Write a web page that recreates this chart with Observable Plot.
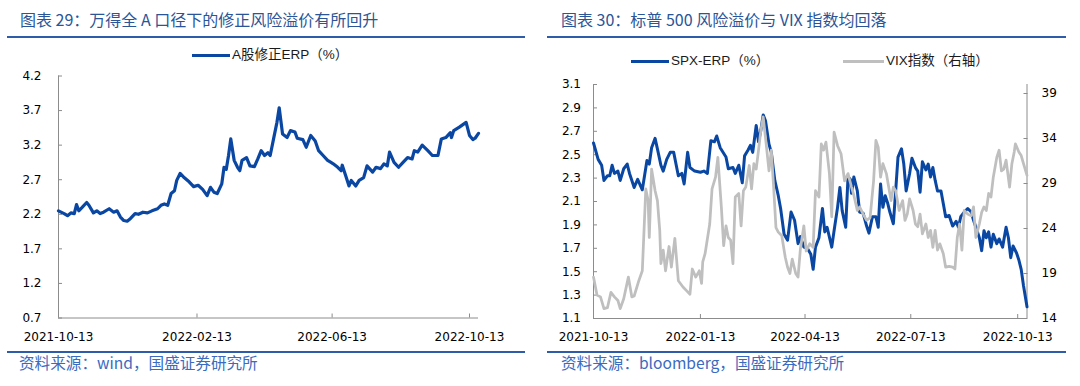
<!DOCTYPE html>
<html><head><meta charset="utf-8">
<script src="https://cdn.jsdelivr.net/npm/d3@7"></script>
<script src="https://cdn.jsdelivr.net/npm/@observablehq/plot@0.6"></script>
<style>
html,body{margin:0;padding:0;background:#fff;}
#root{position:relative;width:1080px;height:386px;overflow:hidden;font-family:"Noto Sans CJK SC",sans-serif;}
.title{position:absolute;top:9px;font-size:16px;color:#2b5597;white-space:nowrap;line-height:20px;}
.rule{position:absolute;height:2px;background:#2e5ca8;}
.legend{position:absolute;font-family:"Liberation Sans","Noto Sans CJK SC",sans-serif;font-size:13.5px;color:#1a1a1a;white-space:nowrap;line-height:16px;height:16px;display:flex;align-items:center;}
.swatch{display:inline-block;width:38px;height:3px;margin-right:2px;}
.caption{position:absolute;top:352px;font-size:15.6px;color:#3a6bc0;white-space:nowrap;line-height:20px;}
.chart{position:absolute;}
</style>
</head><body>
<div id="root">
  <div class="title" style="left:20px">图表 29：万得全 A 口径下的修正风险溢价有所回升</div>
  <div class="rule" style="left:7px;width:518px;top:36px"></div>
  <div class="legend" style="left:192px;top:47px"><span class="swatch" id="swA"></span><span id="lgA"></span></div>
  <div class="chart" id="chartA" style="left:0;top:64px"></div>
  <div class="rule" style="left:7px;width:518px;top:351px"></div>
  <div class="caption" style="left:19px">资料来源：wind，国盛证券研究所</div>

  <div class="title" style="left:561px">图表 30：标普 500 风险溢价与 VIX 指数均回落</div>
  <div class="rule" style="left:547px;width:519px;top:36px"></div>
  <div class="legend" style="left:631px;top:53px"><span class="swatch" id="swS"></span><span id="lgS"></span></div>
  <div class="legend" style="left:843px;top:53px"><span class="swatch" id="swV" style="width:41px"></span><span id="lgV"></span></div>
  <div class="chart" id="chartB" style="left:540px;top:70px"></div>
  <div class="rule" style="left:547px;width:519px;top:351px"></div>
  <div class="caption" style="left:561px">资料来源：bloomberg，国盛证券研究所</div>
</div>
<script>
// ---------- data ----------
const seriesNameA = "A股修正ERP（%）";
const seriesNameS = "SPX-ERP（%）";
const seriesNameV = "VIX指数（右轴）";

const xStart = "2021-10-13";
const xEnd = "2022-10-21";
const xTicksA = ["2021-10-13", "2022-02-13", "2022-06-13", "2022-10-13"];
const xTicksB = ["2021-10-13", "2022-01-13", "2022-04-13", "2022-07-13", "2022-10-13"];
const yTicksA = [0.7, 1.2, 1.7, 2.2, 2.7, 3.2, 3.7, 4.2];
const yTicksB = [1.1, 1.3, 1.5, 1.7, 1.9, 2.1, 2.3, 2.5, 2.7, 2.9, 3.1];
const yTicksVix = [14, 19, 24, 29, 34, 39];
const yDomainA = [0.7, 4.2];
const yDomainB = [1.1, 3.1];
const yDomainVix = [14, 40];

const aShareERP = [
["2021-10-13",2.25],["2021-10-18",2.21],["2021-10-21",2.18],["2021-10-24",2.22],["2021-10-27",2.21],
["2021-10-29",2.34],["2021-10-31",2.25],["2021-11-03",2.30],["2021-11-07",2.37],["2021-11-09",2.33],
["2021-11-13",2.22],["2021-11-16",2.25],["2021-11-19",2.21],["2021-11-22",2.23],["2021-11-27",2.28],
["2021-12-01",2.23],["2021-12-04",2.25],["2021-12-07",2.16],["2021-12-10",2.11],["2021-12-13",2.10],
["2021-12-16",2.14],["2021-12-20",2.21],["2021-12-23",2.20],["2021-12-27",2.23],["2021-12-31",2.22],
["2022-01-04",2.25],["2022-01-09",2.28],["2022-01-12",2.33],["2022-01-15",2.35],["2022-01-18",2.33],
["2022-01-21",2.50],["2022-01-24",2.54],["2022-01-26",2.69],["2022-01-29",2.79],["2022-02-01",2.74],
["2022-02-06",2.67],["2022-02-10",2.60],["2022-02-14",2.62],["2022-02-18",2.56],["2022-02-22",2.47],
["2022-02-25",2.59],["2022-02-28",2.52],["2022-03-03",2.50],["2022-03-07",2.64],["2022-03-09",2.88],
["2022-03-11",2.85],["2022-03-13",3.05],["2022-03-15",3.29],["2022-03-18",2.98],["2022-03-21",2.88],
["2022-03-23",2.83],["2022-03-25",2.98],["2022-03-29",3.02],["2022-04-01",2.90],["2022-04-05",2.89],
["2022-04-08",3.00],["2022-04-11",3.12],["2022-04-14",3.05],["2022-04-17",3.09],["2022-04-19",3.05],
["2022-04-22",3.29],["2022-04-25",3.53],["2022-04-27",3.74],["2022-04-30",3.36],["2022-05-04",3.31],
["2022-05-07",3.41],["2022-05-11",3.39],["2022-05-13",3.30],["2022-05-18",3.28],["2022-05-21",3.17],
["2022-05-25",3.34],["2022-05-29",3.26],["2022-06-01",3.12],["2022-06-05",3.05],["2022-06-09",2.98],
["2022-06-12",2.95],["2022-06-14",2.93],["2022-06-18",2.88],["2022-06-21",2.83],["2022-06-22",2.91],
["2022-06-25",2.76],["2022-06-28",2.61],["2022-06-30",2.69],["2022-07-04",2.61],["2022-07-07",2.69],
["2022-07-11",2.73],["2022-07-14",2.90],["2022-07-19",2.81],["2022-07-22",2.88],["2022-07-26",2.86],
["2022-07-29",2.93],["2022-08-01",2.90],["2022-08-03",3.10],["2022-08-07",2.95],["2022-08-11",2.88],
["2022-08-15",2.95],["2022-08-19",3.02],["2022-08-23",3.00],["2022-08-25",3.12],["2022-08-28",3.10],
["2022-09-01",3.20],["2022-09-06",3.12],["2022-09-10",3.05],["2022-09-15",3.05],["2022-09-18",3.29],
["2022-09-22",3.31],["2022-09-26",3.38],["2022-09-27",3.31],["2022-09-29",3.41],["2022-10-04",3.46],
["2022-10-10",3.53],["2022-10-13",3.34],["2022-10-16",3.28],["2022-10-18",3.30],["2022-10-21",3.37]
];

const spxERP = [
["2021-10-13",2.60],["2021-10-17",2.46],["2021-10-20",2.41],["2021-10-22",2.28],["2021-10-25",2.32],
["2021-10-27",2.32],["2021-10-29",2.41],["2021-10-31",2.34],["2021-11-03",2.36],["2021-11-05",2.28],
["2021-11-08",2.38],["2021-11-11",2.42],["2021-11-13",2.34],["2021-11-17",2.22],["2021-11-20",2.29],
["2021-11-24",2.20],["2021-11-28",2.45],["2021-11-30",2.42],["2021-12-02",2.56],["2021-12-05",2.64],
["2021-12-07",2.55],["2021-12-10",2.41],["2021-12-12",2.36],["2021-12-15",2.46],["2021-12-18",2.52],
["2021-12-21",2.52],["2021-12-25",2.32],["2021-12-28",2.34],["2021-12-30",2.25],["2022-01-02",2.52],
["2022-01-04",2.39],["2022-01-08",2.36],["2022-01-13",2.35],["2022-01-16",2.36],["2022-01-19",2.34],
["2022-01-22",2.62],["2022-01-25",2.61],["2022-01-27",2.66],["2022-01-30",2.56],["2022-02-04",2.48],
["2022-02-06",2.38],["2022-02-10",2.39],["2022-02-12",2.34],["2022-02-15",2.41],["2022-02-18",2.26],
["2022-02-20",2.49],["2022-02-23",2.54],["2022-02-25",2.58],["2022-02-27",2.52],["2022-03-02",2.75],
["2022-03-04",2.61],["2022-03-06",2.71],["2022-03-08",2.84],["2022-03-10",2.79],["2022-03-13",2.59],
["2022-03-15",2.52],["2022-03-18",2.28],["2022-03-21",2.15],["2022-03-23",2.04],["2022-03-26",1.82],
["2022-03-29",1.77],["2022-04-01",2.01],["2022-04-04",1.94],["2022-04-07",1.74],["2022-04-09",1.80],
["2022-04-12",1.71],["2022-04-15",1.70],["2022-04-18",1.65],["2022-04-20",1.52],["2022-04-22",1.71],
["2022-04-25",1.79],["2022-04-28",2.04],["2022-04-30",1.84],["2022-05-02",1.88],["2022-05-06",1.71],
["2022-05-08",1.85],["2022-05-11",2.05],["2022-05-13",2.22],["2022-05-15",2.02],["2022-05-18",1.88],
["2022-05-20",2.31],["2022-05-22",2.29],["2022-05-23",2.17],["2022-05-25",2.31],["2022-05-28",2.19],
["2022-05-30",2.01],["2022-06-02",2.00],["2022-06-05",1.89],["2022-06-07",1.83],["2022-06-10",1.97],
["2022-06-13",1.97],["2022-06-15",1.88],["2022-06-17",2.25],["2022-06-19",2.05],["2022-06-21",2.15],
["2022-06-23",2.09],["2022-06-25",2.01],["2022-06-28",1.91],["2022-06-30",2.19],["2022-07-02",2.48],
["2022-07-05",2.55],["2022-07-07",2.42],["2022-07-09",2.19],["2022-07-12",2.34],["2022-07-14",2.47],
["2022-07-17",2.39],["2022-07-19",2.36],["2022-07-21",2.18],["2022-07-23",2.44],["2022-07-26",2.37],
["2022-07-28",2.42],["2022-07-30",2.31],["2022-08-01",2.39],["2022-08-03",2.28],["2022-08-05",2.19],
["2022-08-08",2.19],["2022-08-10",2.08],["2022-08-12",1.97],["2022-08-15",1.98],["2022-08-18",1.89],
["2022-08-21",1.93],["2022-08-23",1.88],["2022-08-25",1.97],["2022-08-28",2.01],["2022-08-31",2.04],
["2022-09-03",2.01],["2022-09-05",1.94],["2022-09-07",1.88],["2022-09-10",1.79],["2022-09-12",1.68],
["2022-09-14",1.85],["2022-09-16",1.79],["2022-09-18",1.84],["2022-09-20",1.71],["2022-09-22",1.82],
["2022-09-25",1.74],["2022-09-27",1.78],["2022-09-30",1.71],["2022-10-03",1.88],["2022-10-05",1.79],
["2022-10-07",1.62],["2022-10-09",1.72],["2022-10-12",1.66],["2022-10-14",1.60],["2022-10-16",1.52],
["2022-10-18",1.38],["2022-10-21",1.20]
];

const vixIndex = [
["2021-10-13",18.6],["2021-10-16",16.6],["2021-10-19",16.4],["2021-10-22",15.1],["2021-10-25",15.2],
["2021-10-28",16.9],["2021-10-31",16.4],["2021-11-03",16.0],["2021-11-05",15.1],["2021-11-08",16.2],
["2021-11-12",18.6],["2021-11-15",16.4],["2021-11-17",16.5],["2021-11-21",18.2],["2021-11-24",19.3],
["2021-11-27",28.4],["2021-11-29",27.1],["2021-11-30",23.0],["2021-12-02",30.6],["2021-12-05",28.2],
["2021-12-07",27.1],["2021-12-09",23.8],["2021-12-10",20.1],["2021-12-12",21.6],["2021-12-14",19.3],
["2021-12-17",22.0],["2021-12-19",19.7],["2021-12-22",22.9],["2021-12-25",18.2],["2021-12-29",17.5],
["2022-01-01",17.1],["2022-01-04",16.7],["2022-01-06",19.5],["2022-01-09",18.6],["2022-01-12",19.3],
["2022-01-14",17.9],["2022-01-15",20.3],["2022-01-17",21.2],["2022-01-21",24.5],["2022-01-23",28.4],
["2022-01-26",29.7],["2022-01-28",31.9],["2022-01-31",26.4],["2022-02-02",22.1],["2022-02-04",24.3],
["2022-02-06",23.0],["2022-02-08",22.7],["2022-02-10",20.1],["2022-02-12",27.5],["2022-02-15",27.9],
["2022-02-17",24.3],["2022-02-19",28.2],["2022-02-21",28.6],["2022-02-24",31.0],["2022-02-26",28.4],
["2022-02-28",31.2],["2022-03-02",30.6],["2022-03-04",32.7],["2022-03-06",34.9],["2022-03-08",36.4],
["2022-03-10",34.1],["2022-03-13",30.4],["2022-03-15",32.7],["2022-03-17",28.6],["2022-03-19",24.1],
["2022-03-21",23.6],["2022-03-24",23.2],["2022-03-27",20.8],["2022-03-29",19.7],["2022-03-31",19.0],
["2022-04-02",20.6],["2022-04-05",19.0],["2022-04-07",18.6],["2022-04-09",21.7],["2022-04-12",24.3],
["2022-04-14",21.5],["2022-04-17",22.3],["2022-04-20",21.9],["2022-04-22",28.2],["2022-04-25",27.5],
["2022-04-27",33.4],["2022-04-29",32.7],["2022-05-01",33.6],["2022-05-04",30.1],["2022-05-06",25.3],
["2022-05-08",34.7],["2022-05-11",33.2],["2022-05-14",32.3],["2022-05-17",29.3],["2022-05-20",30.1],
["2022-05-23",28.6],["2022-05-25",27.7],["2022-05-28",26.0],["2022-05-30",26.4],["2022-06-02",25.6],
["2022-06-05",24.9],["2022-06-08",25.2],["2022-06-11",29.3],["2022-06-13",33.8],["2022-06-15",33.0],
["2022-06-17",29.7],["2022-06-19",31.2],["2022-06-22",30.1],["2022-06-24",28.6],["2022-06-26",27.1],
["2022-06-28",28.6],["2022-06-30",28.2],["2022-07-03",26.0],["2022-07-06",27.1],["2022-07-08",24.9],
["2022-07-10",25.6],["2022-07-12",27.3],["2022-07-15",26.0],["2022-07-17",24.5],["2022-07-19",24.2],
["2022-07-21",25.6],["2022-07-23",23.4],["2022-07-26",24.5],["2022-07-28",23.0],["2022-07-30",23.8],
["2022-08-01",21.9],["2022-08-03",23.8],["2022-08-05",21.6],["2022-08-07",22.3],["2022-08-10",21.2],
["2022-08-12",19.7],["2022-08-15",19.8],["2022-08-18",19.7],["2022-08-20",19.5],["2022-08-22",23.0],
["2022-08-24",24.5],["2022-08-26",21.6],["2022-08-28",26.0],["2022-08-31",25.6],["2022-09-03",25.4],
["2022-09-05",26.4],["2022-09-07",23.0],["2022-09-10",24.5],["2022-09-12",25.8],["2022-09-14",26.4],
["2022-09-16",26.0],["2022-09-18",27.9],["2022-09-20",27.5],["2022-09-22",29.7],["2022-09-25",31.9],
["2022-09-27",32.7],["2022-09-29",30.4],["2022-10-01",30.6],["2022-10-03",31.6],["2022-10-06",28.6],
["2022-10-08",31.2],["2022-10-10",32.5],["2022-10-11",33.4],["2022-10-14",32.5],["2022-10-16",32.1],
["2022-10-18",31.2],["2022-10-21",29.9]
];

// ---------- style ----------
const BLUE = "#0a47a3";
const GRAY = "#bfbfbf";
const AXIS = "#8c8c8c";

document.getElementById("lgA").textContent = seriesNameA;
document.getElementById("lgS").textContent = seriesNameS;
document.getElementById("lgV").textContent = seriesNameV;
document.getElementById("swA").style.background = BLUE;
document.getElementById("swS").style.background = BLUE;
document.getElementById("swV").style.background = GRAY;

const parse = d3.utcParse("%Y-%m-%d");
const fmt = d3.utcFormat("%Y-%m-%d");
const noText = () => "";
const rowsA = aShareERP.map(([d, v]) => ({date: parse(d), value: v}));
const rowsS = spxERP.map(([d, v]) => ({date: parse(d), value: v}));
const vixToLeft = d3.scaleLinear().domain(yDomainVix).range(yDomainB);
const rowsV = vixIndex.map(([d, v]) => ({date: parse(d), value: vixToLeft(v)}));

const baseStyle = {fontFamily: "'DejaVu Sans', sans-serif", fontSize: "12px", color: "#000", background: "transparent", overflow: "visible"};

// ---------- left chart ----------
const chartA = Plot.plot({
  width: 540, height: 286,
  marginLeft: 58, marginRight: 62, marginTop: 11.5, marginBottom: 32.5,
  style: baseStyle,
  x: {type: "utc", domain: [parse(xStart), parse(xEnd)]},
  y: {domain: yDomainA},
  marks: [
    Plot.ruleX([parse(xStart)], {stroke: AXIS}),
    Plot.ruleY([yDomainA[0]], {stroke: AXIS}),
    Plot.axisY(yTicksA, {tickSize: -4, tickFormat: noText, label: null, stroke: AXIS}),
    Plot.axisY(yTicksA, {tickSize: 0, tickPadding: 17, tickFormat: d => d.toFixed(1), label: null, fill: "#000"}),
    Plot.axisX(xTicksA.map(parse), {tickSize: -4, tickFormat: noText, label: null, stroke: AXIS}),
    Plot.axisX(xTicksA.map(parse), {tickSize: 0, tickPadding: 14, tickFormat: fmt, label: null, fill: "#000"}),
    Plot.line(rowsA, {x: "date", y: "value", stroke: BLUE, strokeWidth: 3.2, strokeLinejoin: "round", strokeLinecap: "round"})
  ]
});
document.getElementById("chartA").append(chartA);

// ---------- right chart ----------
const chartB = Plot.plot({
  width: 540, height: 280,
  marginLeft: 53, marginRight: 53.5, marginTop: 14, marginBottom: 32,
  style: baseStyle,
  x: {type: "utc", domain: [parse(xStart), parse(xEnd)]},
  y: {domain: yDomainB},
  marks: [
    Plot.ruleX([parse(xStart), parse(xEnd)], {stroke: AXIS}),
    Plot.ruleY([yDomainB[0]], {stroke: AXIS}),
    Plot.axisY(yTicksB, {tickSize: -4, tickFormat: noText, label: null, stroke: AXIS}),
    Plot.axisY(yTicksB, {tickSize: 0, tickPadding: 12.5, tickFormat: d => d.toFixed(1), label: null, fill: "#000"}),
    Plot.axisY(yTicksVix.map(vixToLeft), {anchor: "right", tickSize: -4, tickFormat: noText, label: null, stroke: AXIS}),
    Plot.axisY(yTicksVix.map(vixToLeft), {anchor: "right", tickSize: 0, tickPadding: 14.5, tickFormat: d => String(Math.round(vixToLeft.invert(d))), label: null, fill: "#000"}),
    Plot.axisX(xTicksB.map(parse), {tickSize: -4, tickFormat: noText, label: null, stroke: AXIS}),
    Plot.axisX(xTicksB.map(parse), {tickSize: 0, tickPadding: 14, tickFormat: fmt, label: null, fill: "#000"}),
    Plot.line(rowsS, {x: "date", y: "value", stroke: BLUE, strokeWidth: 3, strokeLinejoin: "round", strokeLinecap: "round"}),
    Plot.line(rowsV, {x: "date", y: "value", stroke: GRAY, strokeWidth: 2.75, strokeLinejoin: "round", strokeLinecap: "round"})
  ]
});
document.getElementById("chartB").append(chartB);
</script>
</body></html>
